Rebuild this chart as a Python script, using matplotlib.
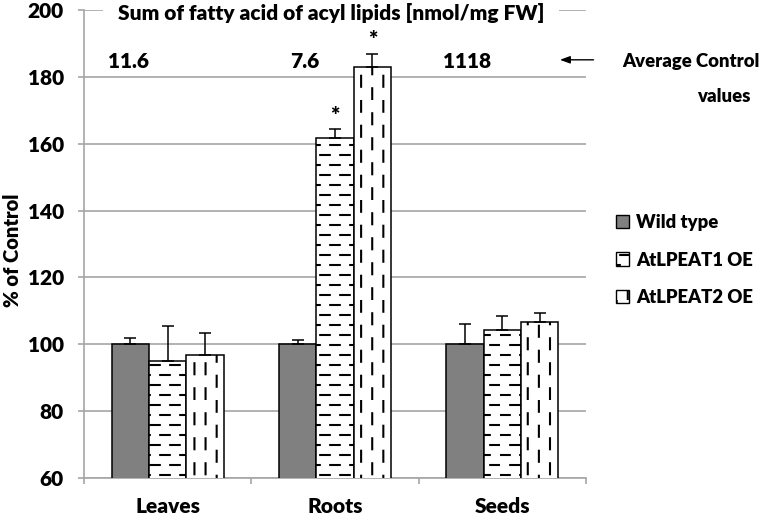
import warnings
warnings.filterwarnings("ignore")
import numpy as np
import matplotlib
matplotlib.use("Agg")
import matplotlib.pyplot as plt
import matplotlib.hatch as mhatch
import matplotlib.transforms as mtrans
from matplotlib.path import Path
from matplotlib.patches import Patch

# ---------------- data ----------------
categories = ["Leaves", "Roots", "Seeds"]
series_names = ["Wild type", "AtLPEAT1 OE", "AtLPEAT2 OE"]
wild_type = [100.0, 100.0, 100.0]
wild_type_err = [1.8, 1.3, 6.2]
lpeat1 = [94.9, 161.7, 104.2]
lpeat1_err = [10.5, 2.6, 4.2]
lpeat2 = [96.7, 182.8, 106.6]
lpeat2_err = [6.7, 4.0, 2.7]
control_values = ["11.6", "7.6", "1118"]
significant = [(1, 1), (1, 2)]  # (category index, series index)
yticks = [60, 80, 100, 120, 140, 160, 180, 200]

# layout only
control_label_offsets = [-0.237, -0.179, -0.211]


# ---------------- custom dashed hatches ----------------
class DashHatch(mhatch.HatchPatternBase):
    def __init__(self, hatch, density):
        self.horiz = "h" in hatch
        self.vert = "v" in hatch
        if self.horiz:
            self.nl, self.nd, self.half = 10, 5, 0.048
        else:
            self.nl, self.nd, self.half = 9, 4, 0.055
        self.num_vertices = 2 * self.nl * self.nd if (self.horiz or self.vert) else 0

    def set_vertices_and_codes(self, vertices, codes):
        k = 0
        for i in range(self.nl):
            pos = (i + 0.5) / self.nl
            off = 0.25 if i % 2 == 0 else 0.75
            for j in range(self.nd):
                c = (j + off) / self.nd
                h = self.half
                if self.horiz:
                    vertices[k] = (c - h, pos)
                    vertices[k + 1] = (c + h, pos)
                else:
                    vertices[k] = (pos, c - h)
                    vertices[k + 1] = (pos, c + h)
                codes[k] = Path.MOVETO
                codes[k + 1] = Path.LINETO
                k += 2


mhatch._hatch_types.append(DashHatch)

FW = 800
FS = 15
FS_SIDE = 13.3
plt.rcParams["font.family"] = ["Lato", "DejaVu Sans"]
plt.rcParams["font.weight"] = FW
plt.rcParams["hatch.linewidth"] = 1.5
plt.rcParams["hatch.color"] = "black"

GRID = "#a6a6a6"

fig = plt.figure(figsize=(7.62, 5.16), dpi=100)
ax = fig.add_axes([84 / 762, 38 / 516, (586 - 84) / 762, (506 - 38) / 516])

x = np.arange(len(categories))
w = 0.223
styles = [
    dict(color="#808080", hatch=None),
    dict(color="white", hatch="h"),
    dict(color="white", hatch="v"),
]
vals = [wild_type, lpeat1, lpeat2]
errs = [wild_type_err, lpeat1_err, lpeat2_err]
for s in range(3):
    ax.bar(x + (s - 1) * w, vals[s], w, color=styles[s]["color"],
           hatch=styles[s]["hatch"], edgecolor="black", linewidth=1.1,
           zorder=3,
           yerr=[np.zeros(len(categories)), errs[s]],
           error_kw=dict(ecolor="black", elinewidth=1.1, capsize=4.5,
                         capthick=1.1, zorder=4))

for ci, si in significant:
    ax.text(x[ci] + (si - 1) * w, vals[si][ci] + errs[si][ci] + 0.8, "*",
            ha="center", va="bottom", fontsize=16, fontweight=FW, zorder=8)

ax.set_ylim(60, 200)
ax.set_xlim(-0.5, 2.5)
ax.set_yticks(yticks)
ax.yaxis.grid(True, color=GRID, linewidth=1.2, zorder=0)
ax.set_axisbelow(True)
for sp in ["top", "right"]:
    ax.spines[sp].set_visible(False)
for sp in ["left", "bottom"]:
    ax.spines[sp].set_color(GRID)
    ax.spines[sp].set_linewidth(1.2)

ax.tick_params(axis="y", direction="out", length=4.5, width=1.2, color=GRID,
               labelsize=FS, pad=10)
ax.set_xticks(x)
ax.set_xticklabels(categories)
ax.tick_params(axis="x", which="major", length=0, labelsize=FS, pad=14)
ax.set_xticks([-0.5, 0.5, 1.5, 2.5], minor=True)
ax.tick_params(axis="x", which="minor", direction="out", length=4.5, width=1.2,
               color=GRID)
for lab in ax.get_yticklabels() + ax.get_xticklabels():
    lab.set_fontweight(FW)

fig.text(13 / 762, 1 - 250 / 516, "% of Control", rotation=90, ha="center",
         va="center", fontsize=14.5, fontweight=FW)

blend = mtrans.blended_transform_factory(ax.transAxes, ax.transData)
ax.text(0.492, 199.1, "Sum of fatty acid of acyl lipids [nmol/mg FW]",
        transform=blend, ha="center", va="center", fontsize=FS,
        fontweight=FW,
        bbox=dict(facecolor="white", edgecolor="none", pad=11), zorder=6,
        clip_on=False)

for i, v in enumerate(control_values):
    ax.text(x[i] + control_label_offsets[i], 184.6, v, ha="center",
            va="center", fontsize=FS, fontweight=FW, zorder=6)

ax.annotate("", xy=(0.948, 185.1), xytext=(1.015, 185.1),
            xycoords=("axes fraction", "data"),
            textcoords=("axes fraction", "data"),
            arrowprops=dict(arrowstyle="-|>,head_length=0.6,head_width=0.22",
                            color="black", lw=1.0, shrinkA=0, shrinkB=0),
            annotation_clip=False)
fig.text(760 / 762, 1 - 62 / 516, "Average Control", ha="right", va="center",
         fontsize=FS_SIDE, fontweight=FW)
fig.text(750 / 762, 1 - 96 / 516, "values", ha="right", va="center",
         fontsize=FS_SIDE, fontweight=FW)

handles = [Patch(facecolor=styles[s]["color"], hatch=styles[s]["hatch"],
                 edgecolor="black", linewidth=1.0) for s in range(3)]
fig.legend(handles, series_names, loc="center left",
           bbox_to_anchor=(616 / 762, 1 - 260 / 516), frameon=False,
           prop=dict(weight=FW, size=FS_SIDE), handlelength=0.72,
           handleheight=0.72, handletextpad=0.35, labelspacing=1.1,
           borderpad=0, borderaxespad=0)

fig.savefig("out.png", dpi=100)
